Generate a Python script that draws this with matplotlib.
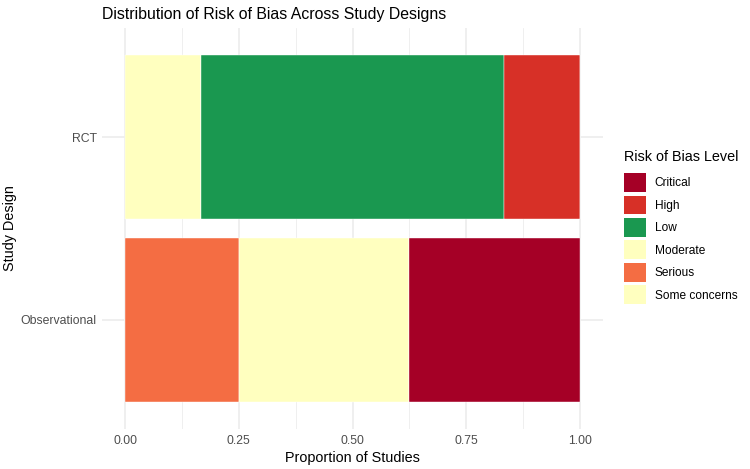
import numpy as np
import matplotlib.pyplot as plt
from matplotlib.patches import Patch
from matplotlib.ticker import MultipleLocator

plt.rcParams['font.family'] = ['Liberation Sans', 'DejaVu Sans']

# study designs, bottom to top
designs = ["Observational", "RCT"]

# risk of bias levels (legend order)
levels = ["Critical", "High", "Low", "Moderate", "Serious", "Some concerns"]
colors = ["#A50026", "#D73027", "#1A9850", "#FFFFBF", "#F46D43", "#FFFFBF"]

# proportion of studies per design for each level
obs_props = [0.375, 0.0, 0.0, 0.375, 0.25, 0.0]
rct_props = [0.0, 1/6, 4/6, 0.0, 0.0, 1/6]

props = np.array([obs_props, rct_props])

fig = plt.figure(figsize=(7.5, 4.69), dpi=100)
ax = fig.add_axes([0.1365, 0.0844, 0.8035 - 0.1365, 0.941 - 0.0844])

ypos = np.arange(len(designs))
left = np.zeros(len(designs))
# ggplot stacks the last level on the left
for i in reversed(range(len(levels))):
    vals = props[:, i]
    ax.barh(ypos, vals, left=left, height=0.9, color=colors[i],
            edgecolor="white", linewidth=0.3, zorder=3)
    left += vals

ax.set_xlim(-0.05, 1.05)
ax.set_ylim(-0.6, 1.6)
ax.xaxis.set_minor_locator(MultipleLocator(0.125))
ax.set_xticks([0, 0.25, 0.5, 0.75, 1.0])
ax.set_xticklabels(["0.00", "0.25", "0.50", "0.75", "1.00"])
ax.set_yticks(ypos)
ax.set_yticklabels(designs)

ax.grid(which="major", color="#EBEBEB", linewidth=1.1, zorder=0)
ax.grid(which="minor", axis="x", color="#EBEBEB", linewidth=0.55, zorder=0)
for s in ax.spines.values():
    s.set_visible(False)
ax.tick_params(which="both", length=0, labelsize=8.8, labelcolor="#4D4D4D", pad=4)

ax.set_xlabel("Proportion of Studies", fontsize=10.4, labelpad=3)
ax.set_ylabel("Study Design", fontsize=10.4, labelpad=3)
ax.set_title("Distribution of Risk of Bias Across Study Designs", fontsize=11.4,
             loc="left", x=0.0, pad=6)

handles = [Patch(facecolor=c, edgecolor="none") for c in colors]
leg = fig.legend(handles, levels, loc="upper left", bbox_to_anchor=(0.826, 0.69),
                 frameon=False, title="Risk of Bias Level", fontsize=8.6,
                 title_fontsize=10.4, handlelength=1.85, handleheight=2.05,
                 labelspacing=0.3, handletextpad=0.7, borderaxespad=0)
leg._legend_box.align = "left"
leg._legend_box.sep = 6.5  # more room under the legend title

fig.savefig("out.png", dpi=100)
